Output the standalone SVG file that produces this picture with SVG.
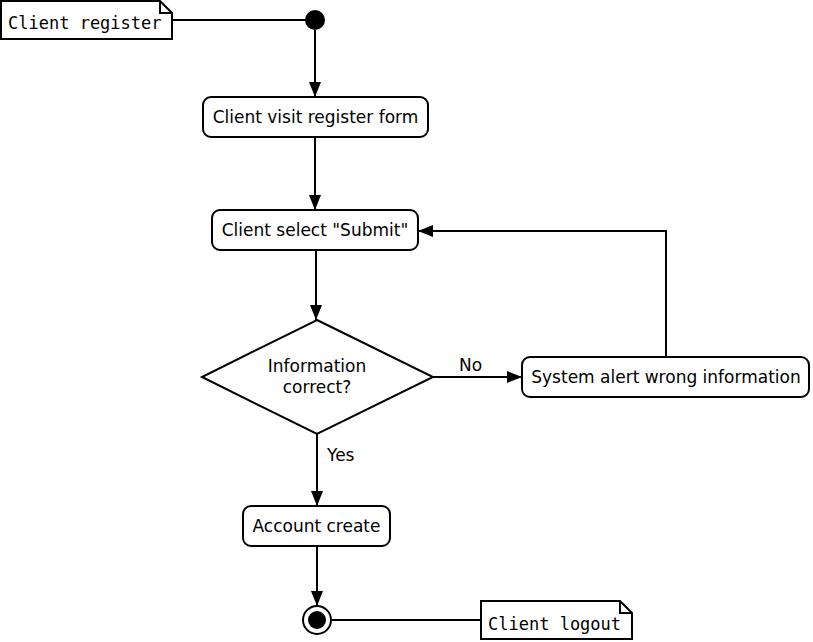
<svg xmlns="http://www.w3.org/2000/svg" width="813" height="642" viewBox="0 0 813 642">
<style>
.node{fill:#fff;stroke:#000;stroke-width:2}
.t{font-family:"DejaVu Sans",sans-serif;font-size:17px;fill:#000;text-anchor:middle}
.m{font-family:"DejaVu Sans Mono",monospace;font-size:17px;fill:#000}
.c{fill:none;stroke:#000;stroke-width:2}
.l{font-family:"DejaVu Sans",sans-serif;font-size:17px;fill:#000}
</style>
<defs>
<marker id="ar" markerWidth="16" markerHeight="12" refX="15" refY="6" orient="auto" markerUnits="userSpaceOnUse">
<path d="M0,0 L15,6 L0,12 Z" fill="#000"/>
</marker>
</defs>
<rect width="813" height="642" fill="#fff"/>
<g id="connectors">
<line class="c" x1="172" y1="20" x2="306" y2="20"/>
<line class="c" x1="315" y1="30" x2="315" y2="97" marker-end="url(#ar)"/>
<line class="c" x1="315" y1="137" x2="315" y2="210" marker-end="url(#ar)"/>
<line class="c" x1="316" y1="250" x2="316" y2="320" marker-end="url(#ar)"/>
<line class="c" x1="433" y1="377" x2="522" y2="377" marker-end="url(#ar)"/>
<polyline class="c" points="666,357 666,231 418,231" marker-end="url(#ar)"/>
<line class="c" x1="317" y1="434" x2="317" y2="506" marker-end="url(#ar)"/>
<line class="c" x1="317" y1="546" x2="317" y2="606" marker-end="url(#ar)"/>
<line class="c" x1="331" y1="620" x2="481" y2="620"/>
<text class="l" x="459" y="371">No</text>
<text class="l" x="327" y="461">Yes</text>
</g>
<g id="note-register">
<path class="node" d="M1,1 H160 L172,13 V39 H1 Z"/>
<path class="c" d="M160,1 V13 H172"/>
<text class="m" x="8" y="29">Client register</text>
</g>
<g id="start">
<circle cx="315" cy="20" r="10" fill="#000"/>
</g>
<g id="visit">
<rect class="node" x="203" y="97" width="225" height="40" rx="8"/>
<text class="t" x="315.5" y="123">Client visit register form</text>
</g>
<g id="submit">
<rect class="node" x="212" y="210" width="206" height="40" rx="8"/>
<text class="t" x="315" y="236">Client select "Submit"</text>
</g>
<g id="decision">
<polygon class="node" points="317,320 433,377 317,434 202,377"/>
<text class="t" x="317" y="372">Information</text>
<text class="t" x="317" y="393">correct?</text>
</g>
<g id="alert">
<rect class="node" x="522" y="357" width="287" height="40" rx="8"/>
<text class="t" x="666" y="383">System alert wrong information</text>
</g>
<g id="account">
<rect class="node" x="243" y="506" width="147" height="40" rx="8"/>
<text class="t" x="316.5" y="532">Account create</text>
</g>
<g id="end">
<circle cx="317" cy="620" r="14" fill="#fff" stroke="#000" stroke-width="2"/>
<circle cx="317" cy="620" r="9" fill="#000"/>
</g>
<g id="note-logout">
<path class="node" d="M481,601 H620 L632,613 V639 H481 Z"/>
<path class="c" d="M620,601 V613 H632"/>
<text class="m" x="488" y="630">Client logout</text>
</g>
</svg>
